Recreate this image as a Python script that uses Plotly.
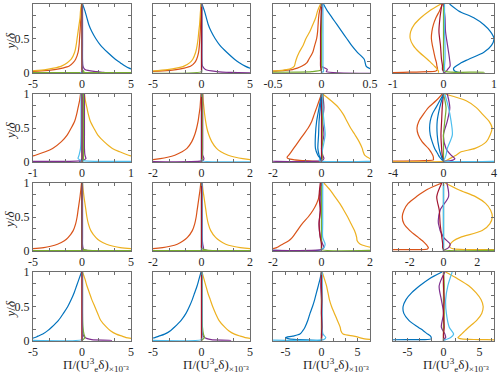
import plotly.graph_objects as go

# y grids (fraction of boundary-layer thickness)
Y_MAIN = [1, 0.9, 0.8, 0.7, 0.6, 0.5, 0.4, 0.3, 0.2, 0.15, 0.1, 0.07, 0.05, 0.03, 0.02, 0.01, 0.003]
Y_MINOR = [1, 0.8, 0.6, 0.4, 0.2, 0.1, 0.05, 0.02, 0.008, 0.003]

# ---- row 1 ----
r1c1 = {
    "blue": [0.05, 0.3, 0.5, 0.7, 1.0, 1.4, 1.9, 2.6, 3.4, 3.9, 4.4, 4.8, 5.2, 6, 7, 8, 9],
    "red": [-0.03, -0.08, -0.12, -0.16, -0.2, -0.25, -0.3, -0.4, -0.65, -0.9, -1.3, -2.0, -2.8, -4.2, -5.5, -7, -8],
    "yellow": [-0.05, -0.15, -0.2, -0.3, -0.4, -0.5, -0.6, -0.75, -1.1, -1.5, -2.1, -2.9, -3.7, -5.2, -6, -7, -8],
    "purple": [0.05, 0.05, 0.05, 0.05, 0.05, 0.1, 0.3, 1.5, 2.2, 2.5],
    "green": [0, 0, 0, 0, 0, 0, 0, 0.2, -20, 20],
    "lightblue": [0.05, 0.05, 0.05, 0.05, 0.05, 0.05, 0.05, 0, -0.1, -0.2],
    "darkred": [0, 0, 0, 0, 0, 0, 0, 0, 0, 0],
}
r1c2 = {
    "blue": [0.05, 0.3, 0.5, 0.7, 1.0, 1.4, 1.9, 2.6, 3.4, 3.9, 4.5, 5.0, 5.5, 6.5, 7, 8, 9],
    "red": [-0.02, -0.05, -0.08, -0.1, -0.13, -0.17, -0.22, -0.3, -0.5, -0.7, -1.1, -1.8, -2.6, -4.0, -5.2, -7, -8],
    "yellow": [-0.03, -0.1, -0.15, -0.2, -0.28, -0.35, -0.45, -0.6, -0.9, -1.2, -1.8, -2.6, -3.5, -5.0, -6, -7, -8],
    "purple": [0.05, 0.05, 0.05, 0.05, 0.05, 0.1, 0.4, 1.6, 3.0, 6],
    "green": [0, 0, 0, 0, 0, 0, 0, 0, -20, -20],
    "lightblue": [0.02, 0.02, 0.02, 0.02, 0.02, 0.02, 0.02, 0, 0, 0],
    "darkred": [0, 0, 0, 0, 0, 0, 0, 0, 0, 0],
}
r1c3 = {
    "blue": [0.02, 0.06, 0.11, 0.16, 0.21, 0.26, 0.31, 0.37, 0.44, 0.45, 0.46, 0.49, 0.55, 0.7, 0.8, 0.9, 1.0],
    "red": [0, -0.02, -0.03, -0.035, -0.04, -0.05, -0.07, -0.09, -0.13, -0.15, -0.2, -0.25, -0.3, -0.45, -0.6, -0.8, -1],
    "yellow": [-0.01, -0.04, -0.06, -0.09, -0.12, -0.16, -0.19, -0.23, -0.26, -0.27, -0.28, -0.31, -0.36, -0.48, -0.6, -0.8, -1],
    "purple": [0.01, 0.0, 0.0, -0.005, -0.01, 0.0, 0.06, 0.05, 2, 2],
    "green": [0, 0, 0, 0, 0, 0, 0, -0.1, -2, -2],
    "lightblue": [0.015, 0.015, 0.015, 0.015, 0.015, 0.015, 0.02, 0.02, 0.0, 0.0],
    "darkred": [0, -0.005, -0.01, -0.01, -0.01, -0.01, -0.005, 0, 0, 0],
}
r1c4 = {
    "blue": [0.12, 0.3, 0.6, 0.8, 0.93, 1.0, 0.95, 0.8, 0.5, 0.35, 0.25, 0.2, 0.2, 0.22, 0.25, 0.3, 0.4],
    "red": [-0.02, -0.08, -0.15, -0.2, -0.23, -0.24, -0.22, -0.19, -0.16, -0.14, -0.13, -0.12, -0.12, -0.15, -0.3, -0.8, -1.2],
    "yellow": [-0.05, -0.28, -0.45, -0.58, -0.65, -0.66, -0.6, -0.48, -0.32, -0.25, -0.18, -0.14, -0.12, -0.1, -0.1, -0.1, -0.1],
    "purple": [0.0, 0.03, 0.04, 0.08, 0.12, 0.13, 0.08, 0.05, 0.02, 0.0],
    "green": [0.0, 0.0, 0.0, 0.0, 0.0, 0.0, 0.0, 0.05, 0.8, 0.8],
    "lightblue": [0.02, 0.02, 0.02, 0.03, 0.03, 0.02, 0.02, 0.0, 0.0, 0.0],
    "darkred": [-0.03, -0.07, -0.09, -0.06, -0.04, -0.02, -0.02, 0.0, 0.0, 0.0],
}

# ---- row 2 ----
r2c1 = {
    "blue": [0.0, 0.0, 0.0, 0.0, 0.0, 0.0, 0.0, -0.02, -0.05, -0.05],
    "red": [-0.03, -0.05, -0.08, -0.11, -0.15, -0.22, -0.3, -0.42, -0.6, -0.75, -0.95, -1.1, -1.3, -1.6, -2, -2, -2],
    "yellow": [0.05, 0.07, 0.1, 0.13, 0.17, 0.24, 0.32, 0.45, 0.62, 0.77, 0.95, 1.1, 1.3, 1.6, 2, 2, 2],
    "purple": [0.05, 0.05, 0.05, 0.05, 0.05, 0.06, 0.08, 0.0, -2, -2],
    "green": [0.03, 0.03, 0.03, 0.03, 0.03, 0.03, 0.03, 0.03, 0.0, 0.0],
    "lightblue": [-0.02, -0.02, -0.02, -0.02, -0.03, -0.06, -0.08, 0.0, 2, 2],
    "darkred": [0, 0, 0, 0, 0, 0, 0, 0, 0, 0],
}
r2c2 = {
    "blue": [0, 0, 0, 0, 0, 0, 0, 0, 0, 0],
    "red": [-0.02, -0.04, -0.06, -0.1, -0.14, -0.2, -0.28, -0.4, -0.6, -0.8, -1.1, -1.4, -1.7, -2.2, -3, -4, -4],
    "yellow": [0.05, 0.07, 0.1, 0.13, 0.17, 0.22, 0.3, 0.42, 0.62, 0.8, 1.1, 1.4, 1.7, 2.2, 3, 4, 4],
    "purple": [0.05, 0.05, 0.05, 0.05, 0.05, 0.05, 0.1, 0.05, -4, -4],
    "green": [0.03, 0.03, 0.03, 0.03, 0.03, 0.03, 0.03, 0.02, 0, 0],
    "lightblue": [0, 0, 0, 0, 0, 0, 0, 0, 4, 4],
    "darkred": [0, 0, 0, 0, 0, 0, 0, 0, 0, 0],
}
r2c3 = {
    "blue": [0.0, -0.1, -0.2, -0.25, -0.25, -0.15, -0.05, 0.0, 0.0, 0.0],
    "red": [0, -0.1, -0.2, -0.3, -0.4, -0.55, -0.75, -0.95, -1.15, -1.25, -1.35, -1.42, -1.38, -1.1, -0.7, -0.2, 0],
    "yellow": [0.05, 0.4, 0.7, 0.9, 1.05, 1.2, 1.38, 1.55, 1.68, 1.72, 1.78, 1.9, 2.0, 2.2, 2.5, 3, 3],
    "purple": [0.05, 0.1, 0.05, 0.1, 0.0, 0.05, 0.1, 0.0, -3, -3],
    "green": [0.05, 0.05, 0.03, 0.03, 0.03, 0.03, 0.03, 0.0, 0.0, 0.0],
    "lightblue": [0.03, 0.05, 0.1, 0.15, 0.05, 0.0, -0.05, -0.1, 3, 3],
    "darkred": [0, 0, 0, 0, 0, 0, 0, 0, 0, 0],
    "blue2": [0.0, -0.05, -0.1, -0.12, -0.15, -0.1, -0.05, 0.0, 0.0, 0.0],
}
r2c4 = {
    "blue": [0.0, -0.3, -0.6, -0.9, -1.05, -1.1, -1.05, -0.9, -0.7, -0.55, -0.4, -0.3, -0.2, -0.1, 0, 0, 0],
    "red": [-0.1, -0.6, -1.2, -1.6, -1.95, -2.1, -2.0, -1.7, -1.2, -1.0, -0.85, -0.8, -0.8, -0.8, -1.5, -5, -6],
    "yellow": [0.1, 1.8, 2.6, 3.1, 3.6, 3.85, 3.7, 3.4, 2.5, 1.4, 1.0, 0.7, 0.5, 0.3, 0.2, 0.0, -6],
    "purple": [0.3, 0.5, 0.3, 0.0, 0.2, 0.6, 0.9, 0.6, 0.0, 0.0],
    "green": [0.0, 0.2, 0.1, 0.0, 0.0, 0.0, 0.0, 0.0, 0.0, 0.0],
    "lightblue": [0.1, 0.4, 0.6, 0.7, 0.3, 0.2, 0.1, 0.0, 6, 6],
    "darkred": [0.0, -0.1, -0.15, -0.2, -0.15, -0.1, -0.05, 0.0, 0.0, 0.0],
    "blue2": [0.0, -0.3, -0.5, -0.5, -0.35, -0.2, -0.1, 0.0, 0.0, 0.0],
}

# ---- row 3 ----
r3c1 = {
    "blue": [0, 0, 0, 0, 0, 0, 0, 0, 0, 0],
    "red": [-0.05, -0.12, -0.2, -0.3, -0.4, -0.5, -0.65, -0.9, -1.4, -1.8, -2.5, -3.2, -3.9, -5.5, -7, -8, -8],
    "yellow": [0.05, 0.12, 0.2, 0.3, 0.4, 0.5, 0.65, 0.9, 1.4, 1.8, 2.5, 3.2, 3.9, 5.5, 7, 8, 8],
    "purple": [0.05, 0.05, 0.05, 0.05, 0.05, 0.05, 0.1, 0.2, 0.5, 0.5],
    "green": [0, 0, 0, 0, 0, 0, 0, 0.2, 20, -20],
    "lightblue": [0.05, 0.05, 0.05, 0.05, 0.05, 0.05, 0.05, 0.0, 0.0, 0.0],
    "darkred": [0, 0, 0, 0, 0, 0, 0, 0, 0, 0],
}
r3c2 = {
    "blue": [0, 0, 0, 0, 0, 0, 0, 0, 0, 0],
    "red": [-0.03, -0.06, -0.1, -0.14, -0.18, -0.22, -0.28, -0.38, -0.58, -0.75, -1.0, -1.3, -1.6, -2.2, -3, -3, -3],
    "yellow": [0.03, 0.06, 0.1, 0.14, 0.18, 0.22, 0.28, 0.38, 0.58, 0.75, 1.0, 1.3, 1.6, 2.2, 3, 3, 3],
    "purple": [0.03, 0.03, 0.03, 0.03, 0.03, 0.05, 0.08, 0.1, 0.2, 0.2],
    "green": [0, 0, 0, 0, 0, 0, 0, 0.1, 8, -8],
    "lightblue": [0.02, 0.02, 0.02, 0.02, 0.02, 0.02, 0.02, 0.0, 0.0, 0.0],
    "darkred": [0, 0, 0, 0, 0, 0, 0, 0, 0, 0],
}
r3c3 = {
    "blue": [0, 0, 0, 0, 0, 0, 0, 0, -3, -3],
    "red": [-0.02, -0.05, -0.1, -0.2, -0.35, -0.55, -0.8, -1.0, -1.2, -1.35, -1.6, -1.75, -1.85, -2.1, -2.5, -3, -3],
    "yellow": [0.1, 0.35, 0.55, 0.75, 0.92, 1.08, 1.22, 1.36, 1.45, 1.47, 1.6, 1.85, 2.1, 2.5, 3, 3, 3],
    "purple": [0.0, -0.05, -0.05, -0.1, -0.05, 0.05, 0.1, 0.0, -3, -3],
    "green": [0, 0, 0, 0, 0, 0, 0, 0, 3, 3],
    "lightblue": [0.05, 0.05, 0.05, 0.05, 0.05, 0.15, 0.1, 0.0, 0.0, 0.0],
    "darkred": [-0.05, -0.1, -0.05, -0.1, -0.05, 0.0, 0.0, 0.0, 0.0, 0.0],
}
r3c4 = {
    "blue": [0, 0, 0, 0, 0, 0, 0, 0, 0, 0],
    "red": [-0.1, -1.0, -1.6, -2.1, -2.35, -2.45, -2.35, -2.0, -1.5, -1.25, -1.05, -0.95, -0.9, -0.95, -1.5, -4, -4],
    "yellow": [0.1, 0.9, 1.9, 2.5, 2.8, 2.9, 2.75, 2.3, 1.0, 0.6, 0.4, 0.35, 0.4, 0.6, 1.5, 4, 4],
    "purple": [0.2, 0.3, -0.2, -0.3, 0.0, 0.4, 0.3, 0.1, 0.0, 0.0],
    "green": [0, 0, 0, 0, 0, 0, 0, 0, 4, 4],
    "lightblue": [0, 0, 0, 0, 0, 0, 0, 0, 0, 0],
    "darkred": [-0.1, -0.4, -0.25, -0.2, -0.1, -0.05, -0.05, 0.0, 0.0, 0.0],
}

# ---- row 4 ----
r4c1 = {
    "blue": [-0.05, -0.3, -0.55, -0.8, -1.1, -1.45, -1.9, -2.4, -3.1, -3.5, -4.0, -4.5, -4.8, -5.5, -6, -7, -7],
    "red": [0, 0, 0, 0, 0, 0, 0, 0, 0, 0],
    "yellow": [0.05, 0.3, 0.5, 0.75, 1.0, 1.3, 1.6, 1.9, 2.5, 2.9, 3.5, 4.1, 4.5, 5.5, 6, 7, 7],
    "purple": [0.05, 0.05, 0.05, 0.05, 0.05, 0.1, 0.3, 1.0, 3.0, 3.0],
    "green": [0.05, 0.05, 0.05, 0.05, 0.1, 0.2, 0.3, 0.1, 0, 0],
    "lightblue": [0.05, 0.05, 0.05, 0.05, 0.05, 0.05, 0.05, 0.0, -8, -8],
    "darkred": [0, 0, 0, 0, 0, 0, 0, 0, 0, 0],
}
r4c2 = {
    "blue": [-0.05, -0.25, -0.45, -0.7, -0.95, -1.25, -1.6, -2.1, -2.8, -3.2, -3.8, -4.4, -4.8, -5.5, -6, -7, -7],
    "red": [0, 0, 0, 0, 0, 0, 0, 0, 0, 0],
    "yellow": [0.05, 0.25, 0.45, 0.65, 0.9, 1.15, 1.45, 1.8, 2.4, 2.8, 3.4, 4.0, 4.5, 5.5, 6, 7, 7],
    "purple": [0.05, 0.05, 0.05, 0.05, 0.05, 0.1, 0.3, 1.0, 3.0, 3.0],
    "green": [0.05, 0.05, 0.05, 0.05, 0.1, 0.2, 0.3, 0.1, 0, 0],
    "lightblue": [0.05, 0.05, 0.05, 0.05, 0.05, 0.05, 0.05, 0.0, -8, -8],
    "darkred": [0, 0, 0, 0, 0, 0, 0, 0, 0, 0],
}
r4c3 = {
    "blue": [0.0, -0.2, -0.45, -0.7, -0.95, -1.25, -1.6, -1.9, -2.3, -2.6, -3.0, -4.0, -5.0, -4.5, -3, -1, 0],
    "red": [0, 0, 0, 0, 0, 0, 0, 0, 0, 0],
    "yellow": [0.1, 0.4, 0.7, 0.9, 1.1, 1.4, 1.8, 2.2, 2.6, 2.7, 3.0, 4.5, 5.3, 6, 7, 8, 8],
    "purple": [0.0, -0.1, 0.0, 0.0, 0.1, 0.1, 0.0, 0.0, 0.0, 0.0],
    "green": [0, 0, 0, 0, 0, 0, 0, 0, 0, 0],
    "lightblue": [0.1, 0.1, 0.1, 0.1, 0.1, 0.2, 0.6, 0.3, -8, -8],
    "darkred": [0.0, 0.0, 0.05, 0.0, 0.05, 0.0, 0.0, 0.0, 0.0, 0.0],
}
r4c4 = {
    "blue": [-0.2, -2.0, -3.3, -4.4, -5.2, -5.6, -5.5, -4.8, -3.5, -2.8, -2.2, -1.8, -1.7, -1.7, -3, -8, -8],
    "red": [0, 0, 0, 0, 0, 0, 0, 0, 0, 0],
    "yellow": [0.3, 2.0, 3.5, 4.5, 5.2, 5.5, 5.3, 4.6, 3.5, 3.0, 2.5, 2.2, 2.0, 2.5, 5, 8, 8],
    "purple": [0.2, -0.6, -0.3, 0.0, -0.3, 0.2, 0.3, 0.0, 0.0, 0.0],
    "green": [0.0, 0.1, 0.0, 0.1, 0.0, 0.0, 0.0, 0.0, 0.0, 0.0],
    "lightblue": [1.2, 0.6, 0.3, 0.4, 0.8, 1.4, 1.0, 0.3, 0.0, 0.0],
    "darkred": [0.0, 0.0, 0.1, 0.0, 0.1, 0.0, 0.0, 0.0, 0.0, 0.0],
}

panels = [[r1c1, r1c2, r1c3, r1c4],
          [r2c1, r2c2, r2c3, r2c4],
          [r3c1, r3c2, r3c3, r3c4],
          [r4c1, r4c2, r4c3, r4c4]]

# x-axis limits and labelled ticks per panel
x_ranges = [[[-5, 5], [-5, 5], [-0.5, 0.5], [-1, 1]],
            [[-1, 1], [-2, 2], [-2, 2], [-4, 4]],
            [[-5, 5], [-2, 2], [-2, 2], [-3, 3]],
            [[-5, 5], [-5, 5], [-6.75, 6.75], [-7, 7]]]
x_ticks = [[[-5, 0, 5], [-5, 0, 5], [-0.5, 0, 0.5], [-1, 0, 1]],
           [[-1, 0, 1], [-2, 0, 2], [-2, 0, 2], [-4, 0, 4]],
           [[-5, 0, 5], [-2, 0, 2], [-2, 0, 2], [-2, 0, 2]],
           [[-5, 0, 5], [-5, 0, 5], [-5, 0, 5], [-5, 0, 5]]]

COLORS = {"blue": "#0072BD", "red": "#D95319", "yellow": "#EDB120", "purple": "#7E2F8E",
          "green": "#77AC30", "lightblue": "#4DBEEE", "darkred": "#A2142F", "blue2": "#0072BD"}
ORDER = ["blue", "red", "yellow", "purple", "green", "lightblue", "darkred", "blue2"]

W, H = 498, 373
col_px = [(33, 131), (153, 250), (273, 370), (393, 494)]
row_px = [(4, 73), (94, 162), (183, 251), (272, 341)]

FONT = "Liberation Serif"
TXT = "#262626"
BOX = "#6e6e6e"


def fx(px):
    return px / W


def fy(py):
    return 1 - py / H


fig = go.Figure()
layout = dict(width=W, height=H, margin=dict(l=0, r=0, t=0, b=0, autoexpand=False),
              paper_bgcolor="white", plot_bgcolor="white", showlegend=False,
              font=dict(family=FONT, size=12, color=TXT))
annotations = []

for r in range(4):
    for c in range(4):
        k = r * 4 + c + 1
        xa = "x" if k == 1 else f"x{k}"
        ya = "y" if k == 1 else f"y{k}"
        for name in ORDER:
            if name not in panels[r][c]:
                continue
            xs = panels[r][c][name]
            ys = Y_MAIN if len(xs) == len(Y_MAIN) else Y_MINOR
            fig.add_trace(go.Scatter(x=xs, y=ys, mode="lines", xaxis=xa, yaxis=ya,
                                     line=dict(color=COLORS[name], width=1.2, shape="spline", smoothing=0.8),
                                     hoverinfo="skip"))
        x0, x1 = col_px[c]
        t, b = row_px[r]
        xt = x_ticks[r][c]
        step = xt[1] - xt[0]
        layout[f"xaxis{'' if k == 1 else k}"] = dict(
            domain=[fx(x0), fx(x1)], anchor=ya, range=x_ranges[r][c], automargin=False,
            tickvals=xt, ticktext=[f"{v:g}" for v in xt], ticks="inside", ticklen=3, tickcolor=BOX,
            showline=True, linecolor=BOX, linewidth=1, mirror="ticks",
            showgrid=False, zeroline=False, tickfont=dict(size=12, family=FONT, color=TXT),
            minor=dict(ticks="inside", ticklen=3, tick0=0, dtick=step / 3, tickcolor=BOX),
        )
        layout[f"yaxis{'' if k == 1 else k}"] = dict(
            domain=[fy(b), fy(t)], anchor=xa, range=[0, 1], automargin=False,
            tickvals=[0, 0.5, 1], ticktext=["0", "0.5", "1"], showticklabels=(c == 0),
            ticks="inside", ticklen=3, tickcolor=BOX,
            showline=True, linecolor=BOX, linewidth=1, mirror="ticks",
            showgrid=False, zeroline=False, tickfont=dict(size=12, family=FONT, color=TXT),
            minor=dict(ticks="inside", ticklen=3, tick0=0, dtick=0.5 / 3, tickcolor=BOX),
        )
        if c == 0:
            annotations.append(dict(text="<i>y</i>/<i>δ</i>", x=fx(10), y=fy((t + b) / 2 + 3),
                                    xref="paper", yref="paper", textangle=-90, showarrow=False,
                                    xanchor="center", yanchor="middle",
                                    font=dict(size=13, family=FONT, color=TXT)))
        if r == 3:
            annotations.append(dict(text="Π/(U<sup>3</sup><sub>e</sub>δ)<sub>×10⁻³</sub>",
                                    x=fx(x0 + 28), y=fy(365), xref="paper", yref="paper",
                                    xanchor="left", yanchor="middle", showarrow=False,
                                    font=dict(size=13, family=FONT, color=TXT)))

layout["annotations"] = annotations
fig.update_layout(**layout)
# drop the default 8px body margin so the figure sits at the page corner
fig.write_html("out.html", config={"displayModeBar": False},
               post_script="document.body.style.margin='0';")
